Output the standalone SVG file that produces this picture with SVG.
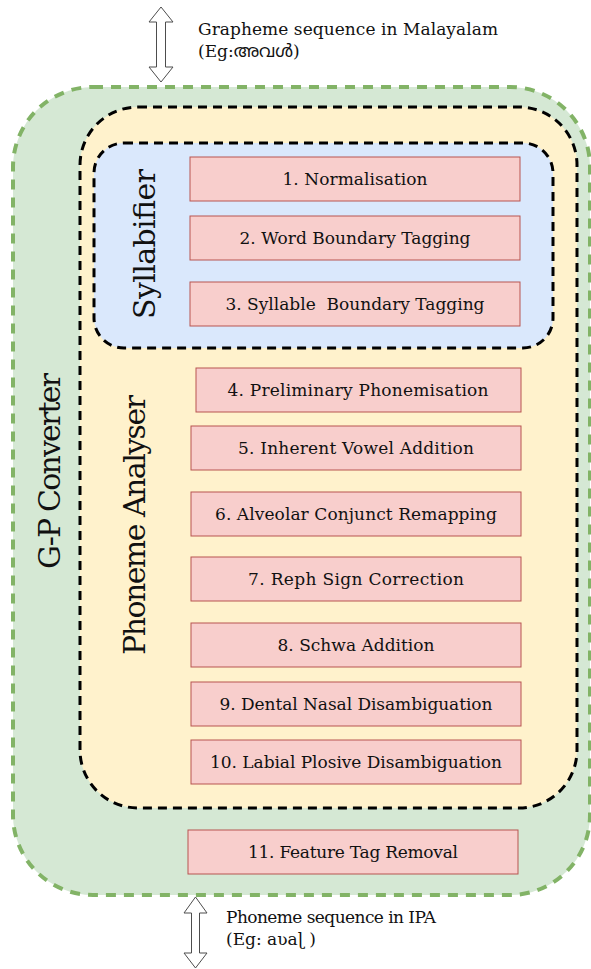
<svg xmlns="http://www.w3.org/2000/svg" width="591" height="969" viewBox="0 0 591 969">
  <style>
    .step { fill: #f8cecc; stroke: #b85450; stroke-width: 1; }
    .steptxt { font-family: "DejaVu Serif", "Liberation Serif", serif; font-size: 17px; fill: #111111; text-anchor: middle; }
    .title { font-family: "DejaVu Serif", "Liberation Serif", serif; font-size: 30px; fill: #111111; text-anchor: middle; }
    .io { font-family: "DejaVu Serif", "Liberation Serif", "Noto Sans Malayalam", serif; font-size: 17px; fill: #111111; }
    .arrow { fill: #ffffff; stroke: #4d4d4d; stroke-width: 1; }
  </style>

  <!-- outer converter container -->
  <g id="gp-converter">
    <rect x="13" y="87" width="577" height="808" rx="80" ry="80" fill="#d5e8d4" stroke="#82b366" stroke-width="4" stroke-dasharray="10 8"/>
    <text class="title" transform="translate(60,471) rotate(-90)" textLength="196">G-P Converter</text>
  </g>

  <!-- phoneme analyser container -->
  <g id="phoneme-analyser">
    <rect x="80" y="107" width="497" height="701" rx="58" ry="58" fill="#fff2cc" stroke="#000000" stroke-width="3" stroke-dasharray="9 6"/>
    <text class="title" transform="translate(145,525) rotate(-90)" textLength="260">Phoneme Analyser</text>
  </g>

  <!-- syllabifier container -->
  <g id="syllabifier">
    <rect x="94" y="143" width="459" height="205" rx="30" ry="30" fill="#dae8fc" stroke="#000000" stroke-width="3" stroke-dasharray="9 6"/>
    <text class="title" transform="translate(155,244) rotate(-90)" textLength="150">Syllabifier</text>
  </g>

  <!-- processing steps -->
  <g id="step1"><rect class="step" x="190" y="157" width="330" height="44"/><text class="steptxt" x="355" y="185" textLength="145">1. Normalisation</text></g>
  <g id="step2"><rect class="step" x="190" y="216" width="330" height="44"/><text class="steptxt" x="355" y="244" textLength="231">2. Word Boundary Tagging</text></g>
  <g id="step3"><rect class="step" x="190" y="282" width="330" height="44"/><text class="steptxt" x="355" y="310" textLength="259" xml:space="preserve">3. Syllable  Boundary Tagging</text></g>
  <g id="step4"><rect class="step" x="196" y="368" width="325" height="44"/><text class="steptxt" x="358" y="396" textLength="261">4. Preliminary Phonemisation</text></g>
  <g id="step5"><rect class="step" x="191" y="426" width="330" height="44"/><text class="steptxt" x="356" y="454" textLength="236">5. Inherent Vowel Addition</text></g>
  <g id="step6"><rect class="step" x="191" y="492" width="330" height="44"/><text class="steptxt" x="356" y="520" textLength="282">6. Alveolar Conjunct Remapping</text></g>
  <g id="step7"><rect class="step" x="191" y="557" width="330" height="44"/><text class="steptxt" x="356" y="585" textLength="216">7. Reph Sign Correction</text></g>
  <g id="step8"><rect class="step" x="191" y="623" width="330" height="44"/><text class="steptxt" x="356" y="651" textLength="157">8. Schwa Addition</text></g>
  <g id="step9"><rect class="step" x="191" y="682" width="330" height="44"/><text class="steptxt" x="356" y="710" textLength="273">9. Dental Nasal Disambiguation</text></g>
  <g id="step10"><rect class="step" x="191" y="740" width="330" height="44"/><text class="steptxt" x="356" y="768" textLength="292">10. Labial Plosive Disambiguation</text></g>
  <g id="step11"><rect class="step" x="188" y="830" width="330" height="44"/><text class="steptxt" x="353" y="858" textLength="210">11. Feature Tag Removal</text></g>

  <!-- input / output arrows -->
  <g id="connectors">
    <path class="arrow" d="M161,7 L173,22 L165.5,22 L165.5,67 L173,67 L161,82 L149,67 L156.5,67 L156.5,22 L149,22 Z"/>
    <path class="arrow" d="M195.5,897 L207,913 L199.5,913 L199.5,953 L207,953 L195.5,968 L184,953 L191.5,953 L191.5,913 L184,913 Z"/>
  </g>

  <!-- input description -->
  <g id="input-label">
    <text class="io" x="198" y="35" textLength="300">Grapheme sequence in Malayalam</text>
    <text class="io" x="198" y="57">(Eg:അവൾ)</text>
  </g>

  <!-- output description -->
  <g id="output-label">
    <text class="io" x="226" y="923" textLength="210">Phoneme sequence in IPA</text>
    <text class="io" x="226" y="945" xml:space="preserve">(Eg: aʋaɭ )</text>
  </g>
</svg>
